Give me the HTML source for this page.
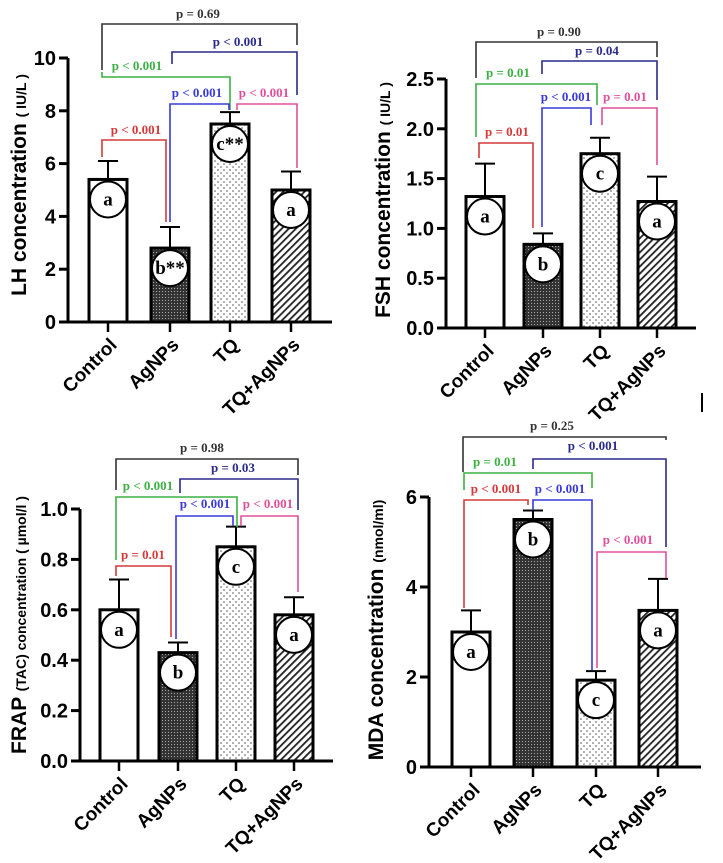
<!DOCTYPE html>
<html><head><meta charset="utf-8">
<style>
html,body{margin:0;padding:0;background:#fff;}
svg{display:block;}
.tk{font:bold 20px "Liberation Sans",sans-serif;}
.pl{font:bold 13px "Liberation Serif",serif;}
.cat{font:bold 19px "Liberation Sans",sans-serif;}
.yt{font:bold 21px "Liberation Sans",sans-serif;}
.lt{font:bold 19px "Liberation Serif",serif;}
</style></head>
<body>
<svg id="fig" width="723" height="863" viewBox="0 0 723 863" xmlns="http://www.w3.org/2000/svg">
<defs>
<pattern id="pCross" width="3" height="3" patternUnits="userSpaceOnUse"><rect width="3" height="3" fill="#333"/><rect width="1" height="1" fill="#aaa"/></pattern>
<pattern id="pDots" width="6" height="6" patternUnits="userSpaceOnUse"><rect width="6" height="6" fill="#fff"/><circle cx="2" cy="2" r="0.8" fill="#555"/><circle cx="5" cy="5" r="0.8" fill="#555"/></pattern>
<pattern id="pHatch" width="5" height="5" patternUnits="userSpaceOnUse" patternTransform="rotate(45)"><rect width="5" height="5" fill="#fff"/><rect width="1.8" height="5" fill="#222"/></pattern>
</defs>
<line x1="702" y1="393" x2="702" y2="412" stroke="#000" stroke-width="2"/>
</svg>
<script>
const categories = ["Control","AgNPs","TQ","TQ+AgNPs"];
const lhValues = [5.4, 2.8, 7.5, 5.0];
const lhErrors = [0.7, 0.8, 0.45, 0.7];
const lhLetters = ["a","b**","c**","a"];
const lhTicks = ["0","2","4","6","8","10"];
const fshValues = [1.32, 0.84, 1.75, 1.27];
const fshErrors = [0.33, 0.11, 0.16, 0.25];
const fshLetters = ["a","b","c","a"];
const fshTicks = ["0.0","0.5","1.0","1.5","2.0","2.5"];
const frapValues = [0.60, 0.43, 0.85, 0.58];
const frapErrors = [0.12, 0.04, 0.08, 0.07];
const frapLetters = ["a","b","c","a"];
const frapTicks = ["0.0","0.2","0.4","0.6","0.8","1.0"];
const mdaValues = [3.0, 5.5, 1.93, 3.48];
const mdaErrors = [0.48, 0.2, 0.2, 0.7];
const mdaLetters = ["a","b","c","a"];
const mdaTicks = ["0","2","4","6"];
const lhPLabels = ["p = 0.69","p < 0.001","p < 0.001","p < 0.001","p < 0.001","p < 0.001"];
const fshPLabels = ["p = 0.90","p = 0.04","p = 0.01","p = 0.01","p < 0.001","p = 0.01"];
const frapPLabels = ["p = 0.98","p = 0.03","p < 0.001","p = 0.01","p < 0.001","p < 0.001"];
const mdaPLabels = ["p = 0.25","p < 0.001","p = 0.01","p < 0.001","p < 0.001","p < 0.001"];

const NS="http://www.w3.org/2000/svg";
const svg=document.getElementById('fig');
function mk(tag,attrs,parent,text){const e=document.createElementNS(NS,tag);for(const k in attrs)e.setAttribute(k,attrs[k]);if(text!==undefined)e.textContent=text;(parent||svg).appendChild(e);return e;}
const fills=["#fff","url(#pCross)","url(#pDots)","url(#pHatch)"];
const colors=["#333","#2a2a8a","#3cb043","#d43a3a","#3a3ad8","#e0509a"];

function panel(cfg,values,errors,letters,ticks,plabels){
  const g=mk('g',{});
  
  
  const y=v=>cfg.y0-(v/cfg.ymax)*(cfg.y0-cfg.ytop);
  const x=i=>cfg.cx[i];
  values.forEach((v,i)=>{
    const r=mk('rect',{x:x(i)-19,y:y(v),width:38,height:cfg.y0-y(v),fill:fills[i],stroke:'#000','stroke-width':3},g);
    
    
    const e=mk('path',{d:`M${x(i)},${y(v)} V${y(v+errors[i])} M${x(i)-10},${y(v+errors[i])} H${x(i)+10}`,stroke:'#000','stroke-width':2,fill:'none'},g);
    
    
    const cy=y(v)+20;
    const c=mk('circle',{cx:x(i),cy:cy,r:18,fill:'#fff',stroke:'#000','stroke-width':2},g);
    
    
    const t=mk('text',{x:x(i),y:cy+6,'text-anchor':'middle',class:'lt'},g,letters[i]);
    
    
  });
  const ax=mk('path',{d:`M${cfg.ax},${cfg.ytop} V${cfg.y0} H${cfg.xend}`,stroke:'#000','stroke-width':3,fill:'none'},g);
  
  
  ticks.forEach((tk,k)=>{
    const v=k*cfg.ymax/(ticks.length-1);const yy=y(v);
    mk('line',{x1:cfg.ax-9,x2:cfg.ax,y1:yy,y2:yy,stroke:'#000','stroke-width':3},g);
    const t=mk('text',{x:cfg.ax-12,y:yy+7,'text-anchor':'end',class:'tk'},g,tk);
    
    
  });
  categories.forEach((c,i)=>{
    mk('line',{x1:x(i),x2:x(i),y1:cfg.y0,y2:cfg.y0+10,stroke:'#000','stroke-width':2.5},g);
    const t=mk('text',{x:0,y:0,'text-anchor':'end',class:'cat',transform:`translate(${x(i)+10},${cfg.y0+24}) rotate(-45)`},g,c);
    
    
  });
  const yt=mk('text',{x:0,y:0,'text-anchor':'middle',class:'yt',transform:`translate(${cfg.tx},${cfg.ty}) rotate(-90)`},g);
  
  
  mk('tspan',{},yt,cfg.t1);
  mk('tspan',{'font-size':'14'},yt,cfg.t2);
  cfg.br.forEach((b,k)=>{
    const [x1,x2,top,l,r,lx,ly]=b;
    const p=mk('path',{d:`M${x1},${l} V${top} H${x2} V${r}`,stroke:colors[k],'stroke-width':1.6,fill:'none'},g);
    
    
    const t=mk('text',{x:lx,y:ly,'text-anchor':'middle',class:'pl',fill:colors[k]},g,plabels[k]);
    
    
  });
}

panel({name:'lh',ax:68,y0:322,ytop:58,ymax:10,xend:332,cx:[108,170,230,291],tx:26,ty:185,t1:'LH concentration ',t2:'( IU/L )',
 br:[[102,297,24,70,45,198,18],[172,297,52,64,95,238,46],[102,230,77,72,110,137,70],[102,166,140,157,222,136,134],[170,229,104,222,110,197,97],[237,297,104,110,168,264,97]]},
 lhValues,lhErrors,lhLetters,lhTicks,lhPLabels);
panel({name:'fsh',ax:446,y0:328,ytop:79,ymax:2.5,xend:696,cx:[485,543,600,657],tx:390,ty:200,t1:'FSH concentration ',t2:'( IU/L )',
 br:[[476,657,42,78,57,559,36],[542,657,61,74,100,597,55],[476,597,84,137,105,508,77],[479,533,143,158,228,507,136],[542,591,108,227,125,566,101],[602,657,108,125,165,625,101]]},
 fshValues,fshErrors,fshLetters,fshTicks,fshPLabels);
panel({name:'frap',ax:80,y0:761,ytop:509,ymax:1.0,xend:333,cx:[119,178,236,294],tx:26,ty:625,t1:'FRAP ',t2:'(TAC) concentration ( µmol/l )',
 br:[[116,298,459,490,475,202,452],[180,298,479,493,510,233,472],[116,237,497,560,527,148,490],[116,171,566,576,637,143,559],[176,233,516,639,526,205,508],[241,298,516,526,592,268,508]]},
 frapValues,frapErrors,frapLetters,frapTicks,frapPLabels);
panel({name:'mda',ax:429,y0:767,ytop:497,ymax:6,xend:701,cx:[471,533,596,658],tx:383,ty:630,t1:'MDA concentration ',t2:'(nmol/ml)',
 br:[[463,666,437,472,440,552,430],[533,666,459,469,547,593,450],[464,592,473,490,488,495,466],[464,528,500,608,505,496,493],[533,592,500,510,670,560,493],[597,666,552,668,578,628,544]]},
 mdaValues,mdaErrors,mdaLetters,mdaTicks,mdaPLabels);
</script>
</body></html>
